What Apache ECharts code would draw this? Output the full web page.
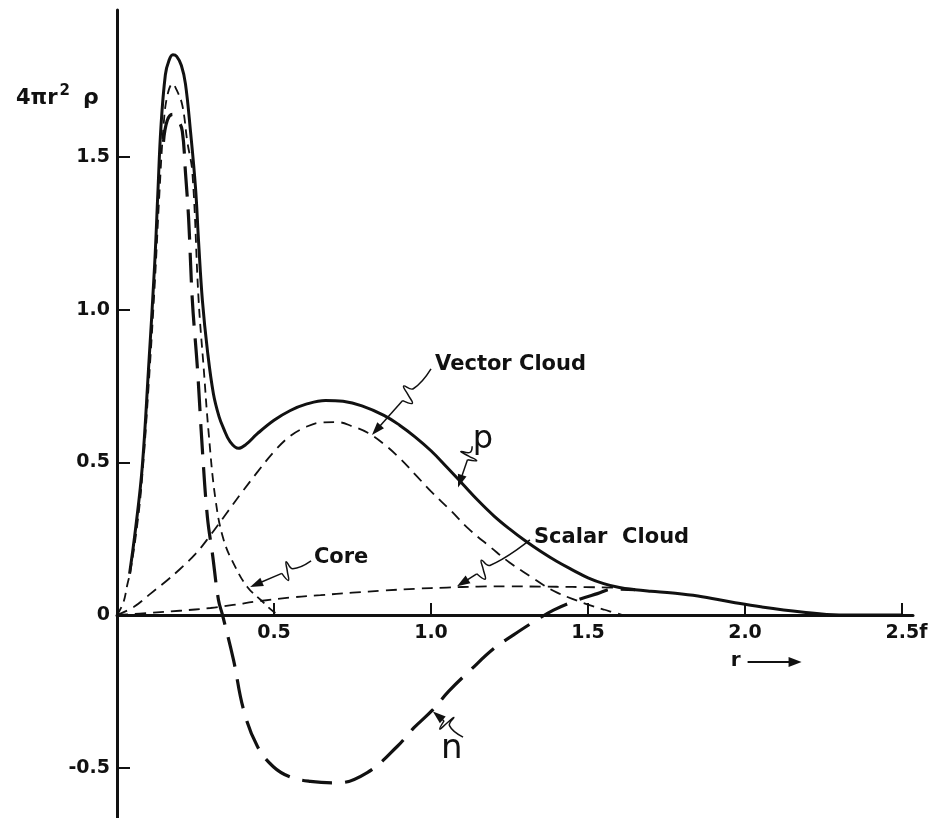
<!DOCTYPE html>
<html>
<head>
<meta charset="utf-8">
<script src="https://cdn.jsdelivr.net/npm/echarts@6/dist/echarts.min.js"></script>
<style>
  html, body { margin: 0; padding: 0; background: #fff; }
  #chart { width: 935px; height: 818px; }
</style>
</head>
<body>
<div id="chart"></div>
<script>
// Radial charge distributions 4πr²ρ(r) of the nucleons (r in fermi)
const protonTotal = [
  [0.04,0.135],[0.06,0.29],[0.08,0.48],[0.1,0.8],[0.12,1.15],[0.13,1.38],[0.14,1.6],
  [0.154,1.77],[0.165,1.815],[0.178,1.835],[0.19,1.83],[0.205,1.8],[0.218,1.74],
  [0.234,1.585],[0.25,1.4],[0.26,1.22],[0.272,1.03],[0.288,0.866],[0.307,0.725],
  [0.325,0.65],[0.34,0.61],[0.36,0.568],[0.387,0.546],[0.41,0.558],[0.447,0.594],
  [0.5,0.638],[0.552,0.67],[0.6,0.69],[0.664,0.703],[0.72,0.7],[0.78,0.685],
  [0.85,0.654],[0.9,0.622],[0.95,0.583],[1.0,0.538],[1.05,0.485],[1.1,0.43],
  [1.15,0.375],[1.2,0.325],[1.25,0.282],[1.3,0.243],[1.35,0.208],[1.4,0.176],
  [1.45,0.148],[1.5,0.122],[1.55,0.103],[1.6,0.09],[1.65,0.083],[1.7,0.078],
  [1.77,0.072],[1.85,0.062],[1.96,0.042],[2.05,0.027],[2.18,0.01],[2.3,0.0],
  [2.4,0.0],[2.5,0.0]
];
const neutronTotal = [
  [0.148,1.55],[0.16,1.62],[0.177,1.64],[0.195,1.62],[0.208,1.585],[0.218,1.45],
  [0.228,1.3],[0.24,1.03],[0.256,0.81],[0.272,0.54],[0.288,0.32],[0.304,0.2],
  [0.323,0.05],[0.336,0.0],[0.371,-0.147],[0.403,-0.31],[0.447,-0.43],[0.498,-0.497],
  [0.55,-0.53],[0.616,-0.545],[0.7,-0.55],[0.797,-0.516],[0.893,-0.43],[0.945,-0.37],
  [1.006,-0.31],[1.056,-0.25],[1.126,-0.18],[1.2,-0.11],[1.263,-0.065],[1.326,-0.023],
  [1.39,0.016],[1.466,0.049],[1.53,0.07],[1.58,0.085],[1.65,0.083]
];
const coreDensity = [
  [0,0],[0.02,0.04],[0.033,0.1],[0.043,0.145],[0.065,0.3],[0.08,0.45],[0.1,0.74],
  [0.12,1.08],[0.135,1.38],[0.148,1.6],[0.16,1.7],[0.177,1.74],[0.19,1.72],
  [0.208,1.67],[0.224,1.55],[0.24,1.45],[0.26,1.03],[0.276,0.81],[0.292,0.595],
  [0.314,0.376],[0.34,0.245],[0.377,0.157],[0.415,0.092],[0.457,0.05],[0.5,0.01],
  [0.52,0]
];
const vectorCloud = [
  [0,0],[0.053,0.026],[0.107,0.07],[0.16,0.114],[0.2,0.15],[0.25,0.2],[0.298,0.262],
  [0.35,0.335],[0.4,0.405],[0.45,0.472],[0.5,0.535],[0.55,0.585],[0.6,0.615],
  [0.65,0.631],[0.7,0.632],[0.75,0.618],[0.8,0.596],[0.85,0.56],[0.9,0.514],
  [0.95,0.46],[1.0,0.405],[1.062,0.343],[1.12,0.282],[1.19,0.222],[1.25,0.172],
  [1.317,0.126],[1.36,0.097],[1.4,0.074],[1.45,0.053],[1.5,0.034],[1.55,0.018],
  [1.58,0.009],[1.61,0]
];
const scalarCloud = [
  [0,0],[0.107,0.007],[0.2,0.014],[0.298,0.023],[0.37,0.033],[0.45,0.045],
  [0.55,0.057],[0.648,0.065],[0.75,0.073],[0.85,0.08],[0.95,0.086],[1.05,0.09],
  [1.15,0.093],[1.25,0.094],[1.35,0.093],[1.45,0.092],[1.58,0.09]
];
const xTicks = [0.5, 1.0, 1.5, 2.0, 2.5];
const yTicks = [-0.5, 0, 0.5, 1.0, 1.5];

// Callouts: label anchor, leader start, arrow tip (data units), squiggle position along leader
const callouts = [
  { text: 'Vector Cloud', at: [1.013, 0.819], from: [1.0, 0.806], to: [0.812, 0.59], t: 0.3, size: 21, align: 'left' },
  { text: 'p', at: [1.165, 0.575], from: [1.131, 0.553], to: [1.086, 0.418], t: 0.15, size: 32, align: 'center' },
  { text: 'Core', at: [0.627, 0.187], from: [0.618, 0.177], to: [0.424, 0.092], t: 0.3, size: 21, align: 'left' },
  { text: 'Scalar  Cloud', at: [1.328, 0.255], from: [1.315, 0.246], to: [1.083, 0.094], t: 0.55, size: 21, align: 'left' },
  { text: 'n', at: [1.066, -0.44], from: [1.102, -0.4], to: [1.006, -0.316], t: 0.45, size: 34, align: 'center' }
];

const ink = '#111';
const Y_MIN = -0.665, Y_MAX = 1.982;
const GRID = { left: 117, right: 22, top: 10, bottom: 0 };
const plotHeight = 818 - GRID.top - GRID.bottom;
// distance from the bottom of the plot to the r axis (y = 0)
const zeroLift = plotHeight * (0 - Y_MIN) / (Y_MAX - Y_MIN);

const chart = echarts.init(document.getElementById('chart'), null, { renderer: 'canvas' });

function fmt(v) {
  if (Math.abs(v) < 1e-9) return '0';
  return v.toFixed(1);
}

const labelFont = { color: ink, fontFamily: 'DejaVu Sans', fontWeight: 'bold', fontSize: 19 };

const option = {
  backgroundColor: '#fff',
  animation: false,
  grid: Object.assign({ containLabel: false, outerBoundsMode: 'none' }, GRID),
  xAxis: {
    type: 'value', min: 0, max: 2.535, position: 'bottom',
    offset: -zeroLift,
    splitLine: { show: false },
    axisLine: { onZero: false, lineStyle: { color: ink, width: 3 } },
    axisTick: { inside: true, length: 12, customValues: xTicks, lineStyle: { color: ink, width: 2 } },
    axisLabel: Object.assign({
      customValues: xTicks, margin: 9,
      formatter: v => Math.abs(v - 2.5) < 1e-6 ? '{p|}2.5f' : fmt(v),
      rich: { p: { width: 9 } }
    }, labelFont)
  },
  yAxis: {
    type: 'value', min: Y_MIN, max: Y_MAX,
    splitLine: { show: false },
    axisLine: { onZero: false, lineStyle: { color: ink, width: 3 } },
    axisTick: { inside: true, length: 13, customValues: yTicks, lineStyle: { color: ink, width: 2 } },
    axisLabel: Object.assign({ customValues: yTicks, margin: 7, formatter: v => fmt(v) }, labelFont)
  },
  series: [
    { name: 'p', type: 'line', data: protonTotal, smooth: 0.4, showSymbol: false, symbol: 'none',
      lineStyle: { color: ink, width: 3 }, z: 5 },
    { name: 'n', type: 'line', data: neutronTotal, smooth: 0.4, showSymbol: false, symbol: 'none',
      lineStyle: { color: ink, width: 3.2, type: [30, 13] }, z: 4 },
    { name: 'Core', type: 'line', data: coreDensity, smooth: 0.4, showSymbol: false, symbol: 'none',
      lineStyle: { color: ink, width: 1.8, type: [9, 6] }, z: 3 },
    { name: 'Vector Cloud', type: 'line', data: vectorCloud, smooth: 0.4, showSymbol: false, symbol: 'none',
      lineStyle: { color: ink, width: 1.8, type: [11, 7] }, z: 3 },
    { name: 'Scalar Cloud', type: 'line', data: scalarCloud, smooth: 0.4, showSymbol: false, symbol: 'none',
      lineStyle: { color: ink, width: 1.8, type: [11, 7] }, z: 3 }
  ]
};
chart.setOption(option);

// Leader lines with a small squiggle and a filled arrowhead
function leaderGraphics(c) {
  const A = chart.convertToPixel({ gridIndex: 0 }, c.from);
  const B = chart.convertToPixel({ gridIndex: 0 }, c.to);
  const dx = B[0] - A[0], dy = B[1] - A[1];
  const L = Math.hypot(dx, dy);
  const u = [dx / L, dy / L];
  const n = [-u[1], u[0]];
  const at = (s, k) => [A[0] + dx * s + n[0] * k, A[1] + dy * s + n[1] * k];
  const t = c.t;
  const pts = [A, at(t, 0), at(t + 0.05, 9), at(t + 0.09, 0), at(t + 0.13, -9), at(t + 0.18, 0)];
  const tail = [at(t + 0.18, 0), [B[0] - u[0] * 8, B[1] - u[1] * 8]];
  const head = [B,
    [B[0] - u[0] * 13 + n[0] * 4.5, B[1] - u[1] * 13 + n[1] * 4.5],
    [B[0] - u[0] * 13 - n[0] * 4.5, B[1] - u[1] * 13 - n[1] * 4.5]];
  return [
    { type: 'polyline', shape: { points: pts, smooth: 0.45 }, style: { stroke: ink, lineWidth: 1.5, fill: null }, z: 10 },
    { type: 'polyline', shape: { points: tail }, style: { stroke: ink, lineWidth: 1.5, fill: null }, z: 10 },
    { type: 'polygon', shape: { points: head }, style: { fill: ink }, z: 10 }
  ];
}

const graphics = [];
callouts.forEach(c => {
  const P = chart.convertToPixel({ gridIndex: 0 }, c.at);
  const weight = c.text.length > 1 ? 'bold ' : '';
  graphics.push({
    type: 'text', x: P[0], y: P[1], z: 10,
    style: { text: c.text, fill: ink, font: weight + c.size + 'px "DejaVu Sans"', textAlign: c.align, textVerticalAlign: 'middle' }
  });
  graphics.push(...leaderGraphics(c));
});

// Axis titles
graphics.push({
  type: 'text', left: 16, top: 84, z: 10,
  style: {
    text: '{a|4πr}{s|2}{g|ρ}', fill: ink,
    rich: {
      a: { fontFamily: 'DejaVu Sans', fontWeight: 'bold', fontSize: 21, fill: ink, verticalAlign: 'bottom' },
      s: { fontFamily: 'DejaVu Sans', fontWeight: 'bold', fontSize: 15, fill: ink, verticalAlign: 'top', padding: [0, 0, 10, 2] },
      g: { fontFamily: 'DejaVu Sans', fontWeight: 'bold', fontSize: 22, fill: ink, verticalAlign: 'bottom', padding: [0, 0, 0, 13] }
    }
  }
});
const rPos = chart.convertToPixel({ gridIndex: 0 }, [1.97, 0]);
graphics.push({
  type: 'text', x: rPos[0], y: rPos[1] + 46, z: 10,
  style: { text: 'r', fill: ink, font: 'bold 20px "DejaVu Sans"', textAlign: 'center', textVerticalAlign: 'middle' }
});
graphics.push({
  type: 'line', z: 10,
  shape: { x1: rPos[0] + 12, y1: rPos[1] + 47, x2: rPos[0] + 55, y2: rPos[1] + 47 },
  style: { stroke: ink, lineWidth: 2 }
});
graphics.push({
  type: 'polygon', z: 10,
  shape: { points: [[rPos[0] + 66, rPos[1] + 47], [rPos[0] + 53, rPos[1] + 42], [rPos[0] + 53, rPos[1] + 52]] },
  style: { fill: ink }
});

chart.setOption({ graphic: graphics });
</script>
</body>
</html>
